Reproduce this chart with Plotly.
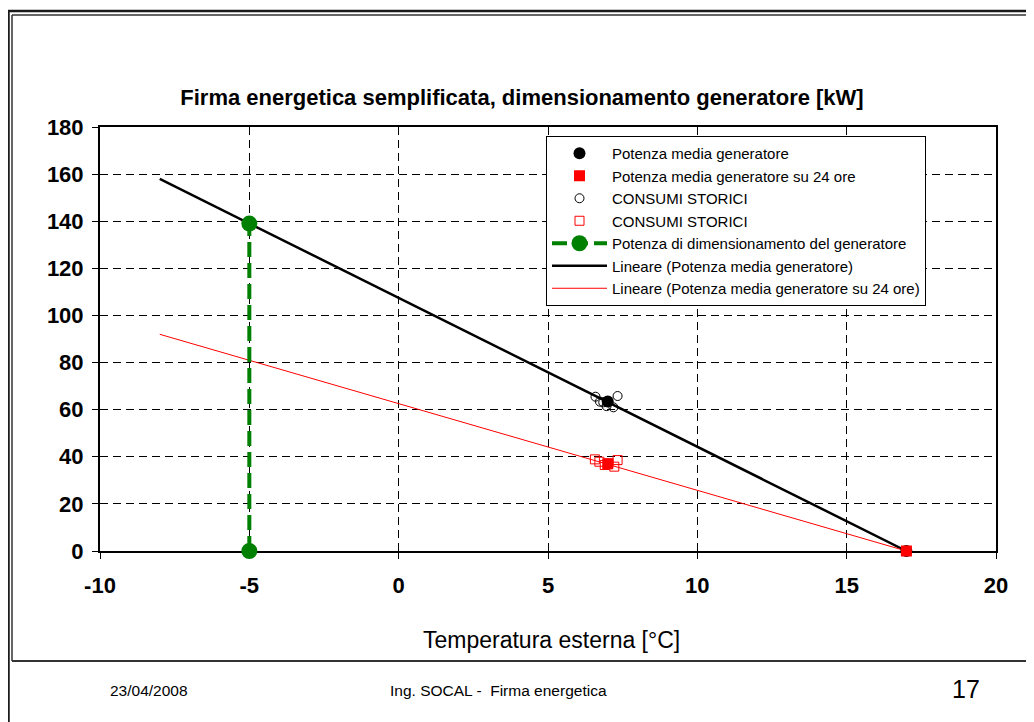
import plotly.graph_objects as go

# ---- data ----
temp_media = [7.0, 17.0]
pot_media = [63.5, 0.0]
pot_24 = [37.0, 0.0]

storici_t = [6.59, 6.74, 6.85, 6.96, 7.19, 7.33]
storici_p = [65.5, 63.4, 63.1, 61.5, 61.0, 65.8]
storici24_t = [6.57, 6.72, 6.90, 7.02, 7.22, 7.33]
storici24_p = [38.9, 37.9, 36.5, 37.2, 35.8, 38.6]

dim_t = [-5.0, -5.0]
dim_p = [0.0, 139.0]

trend_t = [-8.0, 17.0]
trend_media = [158.0, 0.0]
trend_24 = [92.0, 0.0]

x_ticks = [-10, -5, 0, 5, 10, 15, 20]
x_ticktext = ["-10", "-5", "0", "5", "10", "15", "20"]
y_ticks = [0, 20, 40, 60, 80, 100, 120, 140, 160, 180]

# page body has an 8px margin; positions below are screen pixels
OFF = 8
W, H = 1034 - OFF, 722 - OFF
L, R, T, B = 100 - OFF, 996 - OFF, 127 - OFF, 551 - OFF


def px(x):
    return (x - OFF - L) / (R - L)


def py(y):
    return (B - (y - OFF)) / (B - T)


FONT = "Arial, Liberation Sans, sans-serif"

fig = go.Figure()

fig.add_trace(go.Scatter(x=trend_t, y=trend_media, mode="lines",
                         line=dict(color="black", width=2.5),
                         name="Lineare (Potenza media generatore)", legendrank=6))
fig.add_trace(go.Scatter(x=trend_t, y=trend_24, mode="lines",
                         line=dict(color="#ff0000", width=1),
                         name="Lineare (Potenza media generatore su 24 ore)", legendrank=7))
fig.add_trace(go.Scatter(x=dim_t, y=dim_p, mode="lines+markers",
                         line=dict(color="#008000", width=4, dash="15px,6px"),
                         marker=dict(color="#008000", size=16, symbol="circle"),
                         name="Potenza di dimensionamento del generatore", legendrank=5,
                         cliponaxis=False))
fig.add_trace(go.Scatter(x=storici_t, y=storici_p, mode="markers",
                         marker=dict(symbol="circle-open", color="black", size=9, line=dict(width=1)),
                         name="CONSUMI STORICI", legendrank=3))
fig.add_trace(go.Scatter(x=storici24_t, y=storici24_p, mode="markers",
                         marker=dict(symbol="square-open", color="#ff0000", size=9, line=dict(width=1)),
                         name="CONSUMI STORICI ", legendrank=4))
fig.add_trace(go.Scatter(x=temp_media, y=pot_media, mode="markers",
                         marker=dict(symbol="circle", color="black", size=12),
                         name="Potenza media generatore", legendrank=1, cliponaxis=False))
fig.add_trace(go.Scatter(x=temp_media, y=pot_24, mode="markers",
                         marker=dict(symbol="square", color="#ff0000", size=11),
                         name="Potenza media generatore su 24 ore", legendrank=2, cliponaxis=False))

axis_common = dict(
    showline=True, linecolor="black", linewidth=2, mirror=True,
    showgrid=True, gridcolor="black", gridwidth=1, griddash="8px,5px",
    ticks="outside", ticklen=6, tickcolor="black", tickwidth=1,
    zeroline=False, layer="below traces",
    tickfont=dict(family=FONT, size=22, color="black", weight="bold"),
)

fig.update_xaxes(range=[-10, 20], tickvals=x_ticks, ticktext=x_ticktext,
                 ticklabelstandoff=8, **axis_common)
fig.update_yaxes(range=[0, 180], tickvals=y_ticks, ticklabelstandoff=4, **axis_common)

shapes = []
line_col = "#1a1a1a"
# slide frame
shapes.append(dict(type="line", xref="paper", yref="paper", x0=px(7), x1=px(1045), y0=py(11), y1=py(11),
                   line=dict(color=line_col, width=2.5)))
shapes.append(dict(type="line", xref="paper", yref="paper", x0=px(8.5), x1=px(8.5), y0=py(10), y1=py(730),
                   line=dict(color=line_col, width=2.5)))
# chart frame
shapes.append(dict(type="line", xref="paper", yref="paper", x0=px(12), x1=px(12), y0=py(15), y1=py(661),
                   line=dict(color="#333333", width=1.5)))
shapes.append(dict(type="line", xref="paper", yref="paper", x0=px(12), x1=px(1045), y0=py(15), y1=py(15),
                   line=dict(color="#333333", width=1.5)))
shapes.append(dict(type="line", xref="paper", yref="paper", x0=px(12), x1=px(1045), y0=py(661), y1=py(661),
                   line=dict(color="#333333", width=2)))


def note(text, x, y, size):
    return dict(text=text, x=px(x), y=py(y), xref="paper", yref="paper",
                xanchor="center", yanchor="middle", showarrow=False,
                font=dict(family=FONT, size=size, color="black"))


annotations = [
    note("Temperatura esterna [°C]", 551, 640, 23),
    note("23/04/2008", 149, 690, 15.5),
    note("Ing. SOCAL -  Firma energetica", 498, 690, 15.5),
    note("17", 966, 689, 25),
]

fig.update_layout(
    width=W, height=H,
    margin=dict(l=L, r=W - R, t=T, b=H - B, autoexpand=False),
    paper_bgcolor="white", plot_bgcolor="white",
    title=dict(text="<b>Firma energetica semplificata, dimensionamento generatore [kW]</b>",
               x=(522 - OFF) / W, xanchor="center", y=1 - (97 - OFF) / H, yanchor="middle",
               yref="container",
               font=dict(family=FONT, size=22, color="black")),
    legend=dict(x=px(546), y=py(136), xanchor="left", yanchor="top",
                bgcolor="white", bordercolor="black", borderwidth=1,
                font=dict(family=FONT, size=15, color="black"),
                itemwidth=55, tracegroupgap=0, traceorder="normal"),
    shapes=shapes, annotations=annotations,
    showlegend=True,
)

fig.write_html("out.html")
